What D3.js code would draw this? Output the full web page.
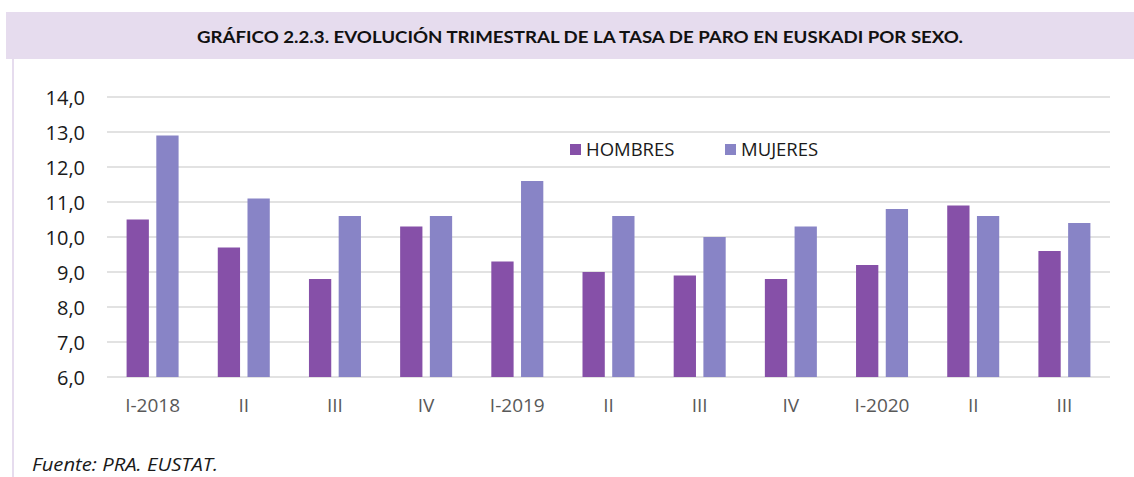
<!DOCTYPE html>
<html>
<head>
<meta charset="utf-8">
<script src="https://cdn.jsdelivr.net/npm/d3@7"></script>
<style>
  body { margin: 0; background: #fff; }
  svg { display: block; font-family: "Open Sans", Lato, sans-serif; }
</style>
</head>
<body>
<svg id="chart" width="1134" height="477"></svg>
<script>
const categories = ["I-2018", "II", "III", "IV", "I-2019", "II", "III", "IV", "I-2020", "II", "III"];
const seriesNames = ["HOMBRES", "MUJERES"];
const hombres = [10.5, 9.7, 8.8, 10.3, 9.3, 9.0, 8.9, 8.8, 9.2, 10.9, 9.6];
const mujeres = [12.9, 11.1, 10.6, 10.6, 11.6, 10.6, 10.0, 10.3, 10.8, 10.6, 10.4];
const yTicks = [6, 7, 8, 9, 10, 11, 12, 13, 14];
const colors = ["#8650a8", "#8884c6"];
const title = "GRÁFICO 2.2.3. EVOLUCIÓN TRIMESTRAL DE LA TASA DE PARO EN EUSKADI POR SEXO.";
const source = "Fuente: PRA. EUSTAT.";

const svg = d3.select("#chart");

// header band
svg.append("rect").attr("x", 6).attr("y", 12).attr("width", 1128).attr("height", 47).attr("fill", "#e6dcee");
svg.append("rect").attr("x", 12).attr("y", 59).attr("width", 2).attr("height", 418).attr("fill", "#e6dcee");
svg.append("text").attr("x", 197).attr("y", 43)
  .attr("font-family", "Lato, sans-serif")
  .attr("font-size", 17.5).attr("font-weight", "bold").attr("fill", "#111")
  .attr("textLength", 766).attr("lengthAdjust", "spacingAndGlyphs").text(title);

const x0 = d3.scaleBand().domain(d3.range(categories.length)).range([107, 1110]);
const x1 = d3.scaleBand().domain([0, 1]).range([-26, 26]).paddingInner(0.25);
const y = d3.scaleLinear().domain([6, 14]).range([377, 97]);

// gridlines
svg.append("g").selectAll("line").data(yTicks).join("line")
  .attr("x1", 107).attr("x2", 1110)
  .attr("y1", d => y(d)).attr("y2", d => y(d))
  .attr("stroke", "#d9d9d9").attr("stroke-width", 1.5);

// y labels
svg.append("g").selectAll("text").data(yTicks).join("text")
  .attr("x", 85).attr("y", d => y(d) + 8).attr("text-anchor", "end")
  .attr("font-size", 20).attr("fill", "#1a1a1a")
  .text(d => d3.format(".1f")(d).replace(".", ","));

// bars
const data = [hombres, mujeres];
data.forEach((vals, si) => {
  svg.append("g").selectAll("rect").data(vals).join("rect")
    .attr("x", (d, i) => x0(i) + x0.bandwidth() / 2 + x1(si))
    .attr("width", x1.bandwidth())
    .attr("y", d => y(d))
    .attr("height", d => y(6) - y(d))
    .attr("fill", colors[si]);
});

// x labels
svg.append("g").selectAll("text").data(categories).join("text")
  .attr("x", (d, i) => x0(i) + x0.bandwidth() / 2)
  .attr("y", 412).attr("text-anchor", "middle")
  .attr("font-size", 19).attr("fill", "#595959").text(d => d);

// legend
const legendPos = [570, 725];
seriesNames.forEach((name, i) => {
  svg.append("rect").attr("x", legendPos[i]).attr("y", 144).attr("width", 11).attr("height", 11).attr("fill", colors[i]);
  svg.append("text").attr("x", legendPos[i] + 16).attr("y", 156).attr("font-size", 18.5).attr("fill", "#1a1a1a").text(name);
});

// source
svg.append("text").attr("x", 32).attr("y", 471).attr("font-size", 18.5).attr("font-style", "italic")
  .attr("fill", "#1a1a1a").attr("textLength", 186).attr("lengthAdjust", "spacingAndGlyphs").text(source);
</script>
</body>
</html>
